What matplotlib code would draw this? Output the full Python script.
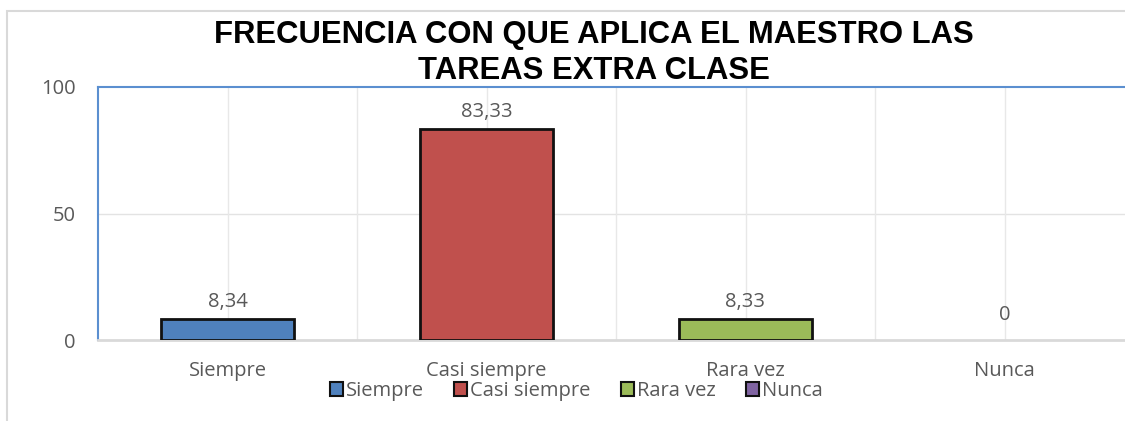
import matplotlib.pyplot as plt
import matplotlib.patches as mpatches
import numpy as np

categories = ["Siempre", "Casi siempre", "Rara vez", "Nunca"]
values = [8.34, 83.33, 8.33, 0]
valueLabels = ["8,34", "83,33", "8,33", "0"]
colors = ["#4F81BD", "#C0504D", "#9BBB59", "#8064A2"]
yTicks = [0, 50, 100]

textColor = "#595959"
font = "Open Sans"
fs = 14.5

fig = plt.figure(figsize=(11.25, 4.21), dpi=100)

# outer chart border (cut off on right like the reference)
border = mpatches.Rectangle((7 / 1125, -0.1), 1.2, 1 - 11 / 421 + 0.1,
                            transform=fig.transFigure, fill=False,
                            edgecolor="#D9D9D9", lw=1.5, clip_on=False)
fig.patches.append(border)

ax = fig.add_axes([98 / 1125, 1 - 340 / 421, 4 * 259 / 1125, 253 / 421])

x = np.arange(len(categories))
edgeWidths = [2 if v > 0 else 0 for v in values]
bars = ax.bar(x, values, width=0.51, color=colors, edgecolor="#111111",
              linewidth=edgeWidths, zorder=3)

for xi, v, lab in zip(x, values, valueLabels):
    off = 5 if v > 0 else 11
    ax.annotate(lab, (xi, v), xytext=(0, off), textcoords="offset points",
                ha="center", va="bottom", fontsize=fs, color=textColor,
                family=font)

ax.set_xlim(-0.5, len(categories) - 0.5)
ax.set_ylim(0, 100)
ax.set_yticks(yTicks)
ax.set_yticklabels([str(t) for t in yTicks], fontsize=fs, color=textColor,
                   family=font)
ax.set_xticks(x)
ax.set_xticklabels(categories, fontsize=fs, color=textColor, family=font)
ax.tick_params(axis="x", length=0, pad=15)
ax.tick_params(axis="y", length=0, pad=16)

# gridlines
ax.axhline(50, color="#E3E3E3", lw=1, zorder=1)
for xv in np.arange(-0.5, len(categories), 0.5)[1:]:
    ax.axvline(xv, color="#E8E8E8", lw=1, zorder=1)

for side in ["left", "top"]:
    ax.spines[side].set_color("#5B8FD0")
    ax.spines[side].set_linewidth(1.5)
ax.spines["bottom"].set_color("#D9D9D9")
ax.spines["bottom"].set_linewidth(2)
ax.spines["right"].set_visible(False)

fig.text(594 / 1125, 1 - 53 / 421,
         "FRECUENCIA CON QUE APLICA EL MAESTRO LAS\nTAREAS EXTRA CLASE",
         ha="center", va="center", fontsize=22.3, fontweight="bold",
         family="Liberation Sans", linespacing=1.3)

handles = [mpatches.Patch(facecolor=c, edgecolor="#111111", lw=1.5)
           for c in colors]
fig.legend(handles, categories, loc="center", ncol=4,
           bbox_to_anchor=(576 / 1125, 1 - 391 / 421), frameon=False,
           handlelength=0.65, handleheight=0.75, handletextpad=0.15,
           columnspacing=1.5, borderpad=0,
           prop={"family": font, "size": fs}, labelcolor=textColor)

fig.savefig("out.png", dpi=100)
